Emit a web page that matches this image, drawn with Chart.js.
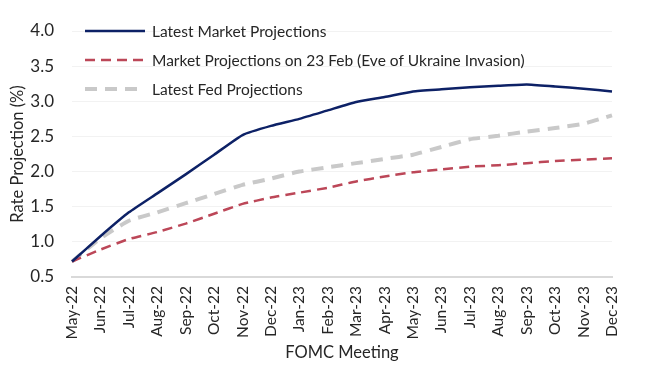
<!DOCTYPE html>
<html>
<head>
<meta charset="utf-8">
<script src="https://cdn.jsdelivr.net/npm/chart.js@4"></script>
<style>
  html, body { margin: 0; padding: 0; background: #fff; }
  #wrap { width: 650px; height: 371px; position: relative; }
</style>
</head>
<body>
<div id="wrap"><canvas id="chart"></canvas></div>
<script>
const months = ['May-22', 'Jun-22', 'Jul-22', 'Aug-22', 'Sep-22', 'Oct-22', 'Nov-22', 'Dec-22', 'Jan-23', 'Feb-23',
  'Mar-23', 'Apr-23', 'May-23', 'Jun-23', 'Jul-23', 'Aug-23', 'Sep-23', 'Oct-23', 'Nov-23', 'Dec-23'];

const latestMarket = [0.72, 1.08, 1.42, 1.69, 1.96, 2.24, 2.52, 2.65, 2.75, 2.87, 2.99, 3.06, 3.14, 3.17, 3.20, 3.22, 3.24, 3.21, 3.18, 3.14];
const marketFeb23 = [0.72, 0.89, 1.04, 1.14, 1.26, 1.40, 1.54, 1.63, 1.70, 1.77, 1.86, 1.93, 1.99, 2.03, 2.07, 2.09, 2.12, 2.15, 2.17, 2.19];
const latestFed = [0.72, 1.05, 1.30, 1.42, 1.55, 1.68, 1.81, 1.90, 2.00, 2.06, 2.12, 2.18, 2.24, 2.35, 2.46, 2.51, 2.57, 2.62, 2.68, 2.80];

const fontFamily = 'Lato, "Open Sans", sans-serif';

// legend drawn inside the plot, top-left, like the original
const insideLegend = {
  id: 'insideLegend',
  afterDraw(chart) {
    const ctx = chart.ctx;
    const x0 = 85, x1 = 145, tx = 152;
    chart.data.datasets.forEach((ds, i) => {
      const y = 31 + i * 29;
      ctx.save();
      ctx.strokeStyle = ds.borderColor;
      ctx.lineWidth = ds.borderWidth;
      ctx.setLineDash(ds.borderDash || []);
      ctx.beginPath();
      ctx.moveTo(x0, y);
      ctx.lineTo(x1, y);
      ctx.stroke();
      ctx.setLineDash([]);
      ctx.fillStyle = '#262626';
      ctx.font = '15.5px ' + fontFamily;
      ctx.textBaseline = 'middle';
      ctx.fillText(ds.label, tx, y + 1);
      ctx.restore();
    });
  }
};

new Chart(document.getElementById('chart'), {
  type: 'line',
  data: {
    labels: months,
    datasets: [
      {
        label: 'Latest Market Projections',
        data: latestMarket,
        borderColor: '#0d2166',
        borderWidth: 2.5,
        pointRadius: 0,
        tension: 0.15
      },
      {
        label: 'Market Projections on 23 Feb (Eve of Ukraine Invasion)',
        data: marketFeb23,
        borderColor: '#bc4758',
        borderWidth: 2.5,
        borderDash: [10, 6],
        pointRadius: 0,
        tension: 0.15
      },
      {
        label: 'Latest Fed Projections',
        data: latestFed,
        borderColor: '#c9c9c9',
        borderWidth: 4,
        borderDash: [12, 8],
        pointRadius: 0,
        tension: 0.15
      }
    ]
  },
  options: {
    responsive: true,
    maintainAspectRatio: false,
    animation: false,
    layout: { padding: { left: 8, right: 38, top: 31, bottom: 8 } },
    plugins: {
      legend: { display: false },
      tooltip: { enabled: false }
    },
    scales: {
      x: {
        offset: false,
        grid: { display: false, drawTicks: false },
        border: { color: '#d9d9d9', width: 2 },
        afterFit: (scale) => { scale.height = 86; },
        ticks: {
          color: '#262626',
          font: { family: fontFamily, size: 15.5 },
          maxRotation: 90,
          minRotation: 90,
          autoSkip: false,
          padding: 9
        },
        title: {
          display: true,
          text: 'FOMC Meeting',
          color: '#262626',
          font: { family: fontFamily, size: 16.5 },
          padding: { top: 0, bottom: 0 }
        }
      },
      y: {
        min: 0.5,
        max: 4.0,
        grid: { color: '#f2f2f2', drawTicks: false },
        border: { display: false },
        afterFit: (scale) => { scale.width = 64; },
        ticks: {
          stepSize: 0.5,
          color: '#262626',
          font: { family: fontFamily, size: 17 },
          padding: 18,
          callback: (v) => v.toFixed(1)
        },
        title: {
          display: true,
          text: 'Rate Projection (%)',
          color: '#262626',
          font: { family: fontFamily, size: 16.5 },
          padding: { top: 0, bottom: 0 }
        }
      }
    }
  },
  plugins: [insideLegend]
});
</script>
</body>
</html>
